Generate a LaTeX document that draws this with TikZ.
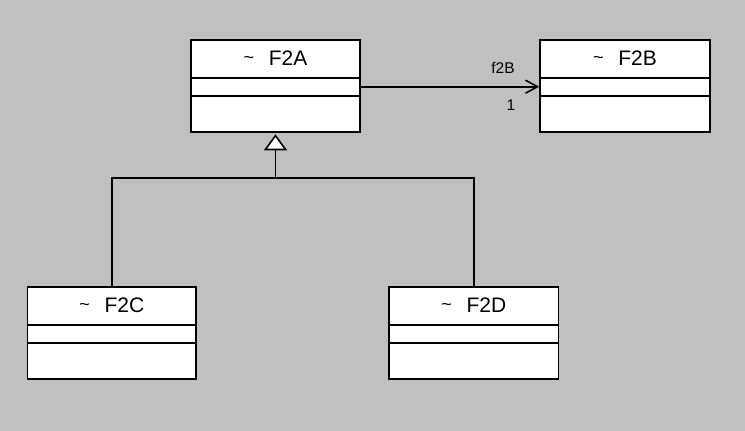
\documentclass[tikz,border=0pt]{standalone}
\usepackage{fontspec}
\setmainfont{Liberation Sans}
\usetikzlibrary{arrows.meta}
\begin{document}
\begin{tikzpicture}[x=1pt,y=-1pt,
  cls/.style={draw=black, fill=white, line width=1.6pt, rectangle, inner sep=0pt},
  ttl/.style={font=\fontsize{21}{23}\selectfont, inner sep=0pt, anchor=center},
  lbl/.style={font=\fontsize{15.5}{17}\selectfont, inner sep=0pt},
  sep/.style={line width=1.6pt},
  con/.style={line width=1.6pt}]
\fill[fill={rgb,255:red,192;green,192;blue,192}] (0,0) rectangle (745,431);
\useasboundingbox (0,0) rectangle (745,431);
% classes
\node[cls, minimum width=169, minimum height=92] (A) at (275.5,86) {};
\node[cls, minimum width=170, minimum height=92] (B) at (625,86) {};
\node[cls, minimum width=168.5, minimum height=92] (C) at (111.75,333) {};
\node[cls, minimum width=169.5, minimum height=92] (D) at (473.75,333) {};
\foreach \n/\t in {A/F2A,B/F2B,C/F2C,D/F2D}{
  \node[ttl] (\n t) at ([yshift=-21.5pt]\n.north) {\strut\raisebox{2pt}{\fontsize{18}{20}\selectfont\char"007E}\hspace{0.7em}\t};
  \draw[sep] ([yshift=-38.5pt]\n.north west) -- ([yshift=-38.5pt]\n.north east);
  \draw[sep] ([yshift=-56.5pt]\n.north west) -- ([yshift=-56.5pt]\n.north east);
}
% association
\draw[con, -{Straight Barb[length=12pt,width=13pt,line width=1.6pt]}] ([yshift=-0.7pt]A.east) -- ([yshift=-0.7pt]B.west);
\node[lbl] (rn) at (503,68) {f2B};
\node[lbl] (mu) at (511,105) {1};
% generalization
\coordinate (j) at (275.5,178);
\draw[con] (C.north) |- (j) -| (D.north);
\draw[con, -{Triangle[open, length=16pt, width=23pt, fill=white, line width=1.6pt]}] (j) -- ([yshift=-1.5pt]A.south);
\end{tikzpicture}
\end{document}
